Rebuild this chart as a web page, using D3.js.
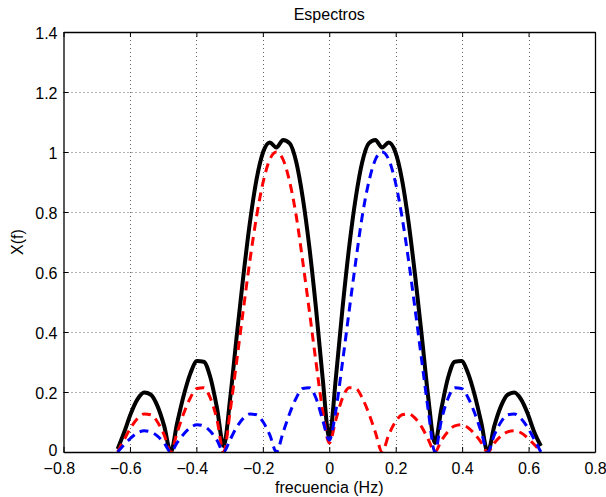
<!DOCTYPE html>
<html>
<head>
<meta charset="utf-8">
<script src="https://cdn.jsdelivr.net/npm/d3@7"></script>
<style>
  body { margin: 0; background: #fff; }
  svg { display: block; font-family: "Liberation Sans", Arial, sans-serif; }
</style>
</head>
<body>
<svg id="chart" width="606" height="497"></svg>
<script>
// frequency samples (Hz)
const freq = [
  -0.637, -0.617, -0.597, -0.577, -0.557, -0.537, -0.517, -0.497,
  -0.477, -0.458, -0.438, -0.418, -0.398, -0.378, -0.358, -0.338,
  -0.318, -0.298, -0.279, -0.259, -0.239, -0.219, -0.199, -0.179,
  -0.159, -0.139, -0.119, -0.099, -0.080, -0.060, -0.040, -0.020,
  0,
  0.020, 0.040, 0.060, 0.080, 0.099, 0.119, 0.139, 0.159,
  0.179, 0.199, 0.219, 0.239, 0.259, 0.279, 0.298, 0.318,
  0.338, 0.358, 0.378, 0.398, 0.418, 0.438, 0.458, 0.477,
  0.497, 0.517, 0.537, 0.557, 0.577, 0.597, 0.617, 0.637
];

// red dashed spectrum
const specRed = [
  0, 0.042, 0.082, 0.112, 0.127, 0.124, 0.100, 0.057,
  0, 0.065, 0.129, 0.181, 0.212, 0.214, 0.180, 0.108,
  0, 0.139, 0.300, 0.471, 0.637, 0.784, 0.900, 0.975,
  1.000, 0.975, 0.900, 0.784, 0.637, 0.471, 0.300, 0.139,
  0.03,
  0.108, 0.180, 0.214, 0.212, 0.181, 0.129, 0.065, 0,
  0.057, 0.100, 0.124, 0.127, 0.112, 0.082, 0.042, 0,
  0.039, 0.069, 0.087, 0.091, 0.081, 0.060, 0.031, 0,
  0.030, 0.053, 0.067, 0.071, 0.064, 0.047, 0.025, 0
];

// blue dashed spectrum
const specBlue = [
  0, 0.025, 0.047, 0.064, 0.071, 0.067, 0.053, 0.030,
  0, 0.031, 0.060, 0.081, 0.091, 0.087, 0.069, 0.039,
  0, 0.042, 0.082, 0.112, 0.127, 0.124, 0.100, 0.057,
  0, 0.065, 0.129, 0.181, 0.212, 0.214, 0.180, 0.108,
  0.04,
  0.139, 0.300, 0.471, 0.637, 0.784, 0.900, 0.975, 1.000,
  0.975, 0.900, 0.784, 0.637, 0.471, 0.300, 0.139, 0,
  0.108, 0.180, 0.214, 0.212, 0.181, 0.129, 0.065, 0,
  0.057, 0.100, 0.124, 0.127, 0.112, 0.082, 0.042, 0
];

// black solid (total) spectrum
const specTotal = [
  0.01, 0.067, 0.129, 0.176, 0.198, 0.191, 0.153, 0.087,
  0, 0.096, 0.189, 0.262, 0.303, 0.301, 0.249, 0.147,
  0.02, 0.182, 0.382, 0.583, 0.764, 0.908, 1.000, 1.032,
  1.015, 1.040, 1.029, 0.965, 0.849, 0.684, 0.480, 0.248,
  0.05,
  0.248, 0.480, 0.684, 0.849, 0.965, 1.029, 1.040, 1.015,
  1.032, 1.000, 0.908, 0.764, 0.583, 0.382, 0.182, 0.03,
  0.147, 0.249, 0.301, 0.303, 0.262, 0.189, 0.096, 0,
  0.087, 0.153, 0.191, 0.198, 0.176, 0.129, 0.067, 0.02
];

const xTicks = [-0.8, -0.6, -0.4, -0.2, 0, 0.2, 0.4, 0.6, 0.8];
const xTickLabels = ["\u22120.8", "\u22120.6", "\u22120.4", "\u22120.2", "0", "0.2", "0.4", "0.6", "0.8"];
const yTicks = [0, 0.2, 0.4, 0.6, 0.8, 1, 1.2, 1.4];
const yTickLabels = ["0", "0.2", "0.4", "0.6", "0.8", "1", "1.2", "1.4"];

const plotLeft = 63.5, plotRight = 595, plotTop = 32, plotBottom = 452;
const FONT = "16px";

let svg = d3.select("#chart");

let x = d3.scaleLinear().domain([-0.8, 0.8]).range([plotLeft, plotRight]);
let y = d3.scaleLinear().domain([0, 1.4]).range([plotBottom, plotTop]);

svg.append("clipPath").attr("id", "plotclip")
  .append("rect")
  .attr("x", plotLeft).attr("y", plotTop)
  .attr("width", plotRight - plotLeft).attr("height", plotBottom - plotTop);

// dotted grid
let grid = svg.append("g").attr("stroke", "#666").attr("stroke-width", 1)
  .attr("stroke-dasharray", "1,3");

grid.selectAll("line.gx").data(xTicks.slice(1, -1)).enter().append("line")
  .attr("x1", function(d) { return Math.round(x(d)) + 0.5; })
  .attr("x2", function(d) { return Math.round(x(d)) + 0.5; })
  .attr("y1", plotTop).attr("y2", plotBottom);

grid.selectAll("line.gy").data(yTicks.slice(1, -1)).enter().append("line")
  .attr("y1", function(d) { return Math.round(y(d)) + 0.5; })
  .attr("y2", function(d) { return Math.round(y(d)) + 0.5; })
  .attr("x1", plotLeft).attr("x2", plotRight);

// axes (ticks pointing inward, on all four sides)
let xAxisB = d3.axisBottom(x).tickValues(xTicks).tickSizeInner(-5).tickSizeOuter(0)
  .tickFormat(function(d, i) { return xTickLabels[i]; }).tickPadding(10.5);
let xAxisT = d3.axisTop(x).tickValues(xTicks).tickSizeInner(-5).tickSizeOuter(0)
  .tickFormat("");
let yAxisL = d3.axisLeft(y).tickValues(yTicks).tickSizeInner(-5).tickSizeOuter(0)
  .tickFormat(function(d, i) { return yTickLabels[i]; }).tickPadding(6);
let yAxisR = d3.axisRight(y).tickValues(yTicks).tickSizeInner(-5).tickSizeOuter(0)
  .tickFormat("");

function styleAxis(g) {
  g.select(".domain").attr("stroke", "#000").attr("stroke-width", 1.3);
  g.selectAll(".tick line").attr("stroke", "#000").attr("stroke-width", 1);
  g.selectAll(".tick text").attr("fill", "#000").style("font-size", FONT)
    .style("font-family", "'Liberation Sans', Arial, sans-serif");
}

// spectra
let line = d3.line()
  .x(function(d) { return x(d.f); })
  .y(function(d) { return y(d.v); })
  .curve(d3.curveMonotoneX);

function series(values) {
  return freq.map(function(f, i) { return {f: f, v: values[i]}; });
}

let plot = svg.append("g").attr("clip-path", "url(#plotclip)");

plot.append("path").datum(series(specTotal))
  .attr("d", line).attr("fill", "none")
  .attr("stroke", "#000").attr("stroke-width", 4)
  .attr("stroke-linejoin", "round");

plot.append("path").datum(series(specRed))
  .attr("d", line).attr("fill", "none")
  .attr("stroke", "#ff0000").attr("stroke-width", 3)
  .attr("stroke-dasharray", "9,6");

plot.append("path").datum(series(specBlue))
  .attr("d", line).attr("fill", "none")
  .attr("stroke", "#0000ff").attr("stroke-width", 3)
  .attr("stroke-dasharray", "9,6");

svg.append("g").attr("transform", "translate(0," + plotBottom + ")").call(xAxisB).call(styleAxis)
  // digits centred on the tick, minus sign hanging to the left
  .selectAll(".tick text")
  .attr("dx", function(d) { return d < 0 ? "-0.29em" : 0; });
svg.append("g").attr("transform", "translate(0," + plotTop + ")").call(xAxisT).call(styleAxis);
svg.append("g").attr("transform", "translate(" + plotLeft + ",0)").call(yAxisL).call(styleAxis)
  .selectAll(".tick text").attr("dy", function(d) { return d === 0 ? "0.22em" : "0.38em"; });
svg.append("g").attr("transform", "translate(" + plotRight + ",0)").call(yAxisR).call(styleAxis);

// title and labels
svg.append("text").attr("x", (plotLeft + plotRight) / 2).attr("y", 19.5)
  .attr("text-anchor", "middle").style("font-size", FONT).text("Espectros");

svg.append("text").attr("x", (plotLeft + plotRight) / 2).attr("y", 493)
  .attr("text-anchor", "middle").style("font-size", FONT).text("frecuencia (Hz)");

svg.append("text").attr("transform", "translate(23," + ((plotTop + plotBottom) / 2) + ") rotate(-90)")
  .attr("text-anchor", "middle").style("font-size", FONT).text("X(f)");
</script>
</body>
</html>
